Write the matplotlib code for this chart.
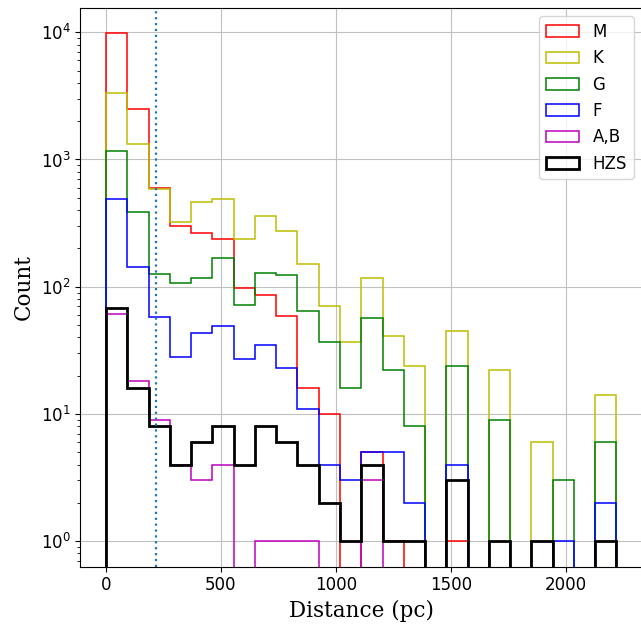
import numpy as np
import matplotlib
matplotlib.use('Agg')
import matplotlib.pyplot as plt

# histogram bins shared by all spectral types (pc)
bin_edges = np.linspace(0, 2220, 25)

# counts per bin
m_counts = [9800, 2490, 600, 300, 265, 235, 98, 86, 59, 16, 10, 0,
            5, 1, 0, 0, 1, 0, 0, 0, 0, 0, 0, 0]
k_counts = [3320, 1320, 590, 320, 460, 490, 238, 361, 272, 152, 70, 37,
            117, 41, 24, 0, 45, 0, 22, 0, 6, 0, 0, 14]
g_counts = [1170, 390, 126, 107, 118, 168, 72, 128, 123, 64, 37, 16,
            57, 22, 8, 0, 24, 0, 9, 0, 0, 3, 0, 6]
f_counts = [491, 144, 58, 28, 43, 49, 27, 35, 23, 11, 4, 3,
            5, 5, 2, 0, 4, 0, 0, 0, 0, 1, 0, 2]
ab_counts = [61, 18, 9, 4, 3, 4, 0, 1, 1, 1, 0, 0,
             3, 0, 0, 0, 0, 0, 0, 0, 0, 0, 0, 0]
hzs_counts = [68, 16, 8, 4, 6, 8, 4, 8, 6, 4, 2, 1,
              4, 1, 1, 0, 3, 0, 1, 0, 1, 0, 0, 1]

labels = ['M', 'K', 'G', 'F', 'A,B', 'HZS']
colors = ['r', 'y', 'g', 'b', 'm', 'k']
series = [m_counts, k_counts, g_counts, f_counts, ab_counts, hzs_counts]

hz_limit = 218  # dotted reference line (pc)

centers = 0.5 * (bin_edges[:-1] + bin_edges[1:])

fig = plt.figure(figsize=(6.41, 6.27), dpi=100)
ax = fig.add_axes([80.5 / 641, (627 - 566.5) / 627, (642 - 80.5) / 641, (566.5 - 8) / 627])

for counts, lab, col in zip(series, labels, colors):
    lw = 2.0 if lab == 'HZS' else 1.1
    ax.hist(centers, bins=bin_edges, weights=counts, histtype='step',
            log=True, color=col, label=lab, linewidth=lw)

ax.axvline(hz_limit, color='C0', linestyle=':', linewidth=1.6)

ax.grid(True, color='#c0c0c0')
ax.set_axisbelow(True)
ax.tick_params(labelsize=12)
ax.set_xlabel('Distance (pc)', family='DejaVu Serif', fontsize=15.5)
ax.set_ylabel('Count', family='DejaVu Serif', fontsize=15.5)
ax.legend(loc='upper right', fontsize=12)

fig.savefig('out.png', dpi=100)
